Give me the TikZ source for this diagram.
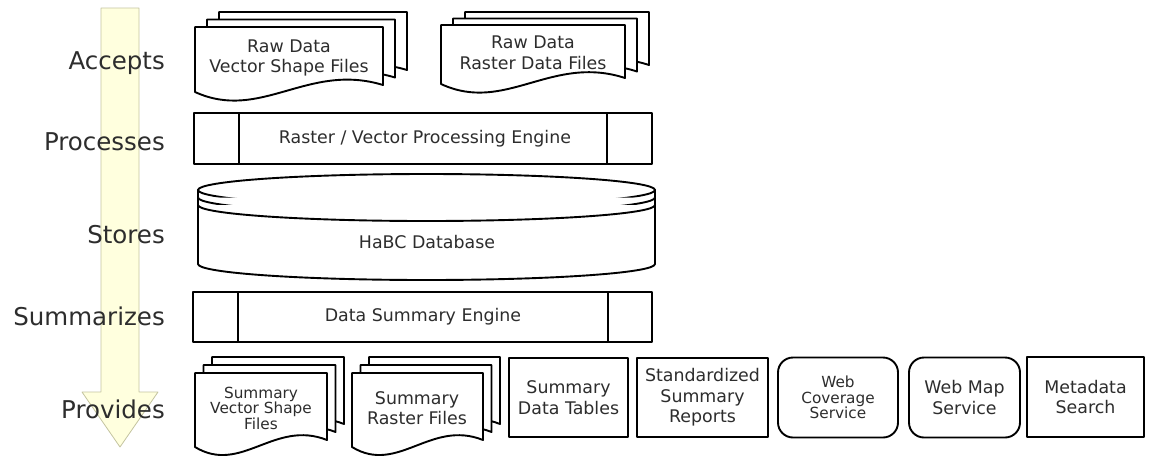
\documentclass[tikz,border=0pt]{standalone}
\usepackage{fontspec}
\setmainfont{DejaVu Sans}
\definecolor{arrowfill}{RGB}{255,255,222}
\definecolor{arrowline}{RGB}{196,196,160}
\definecolor{txt}{RGB}{45,45,45}
\newcommand\docshape[6]{%
  \filldraw[shapeline] (#1,#2) -- (#3,#2) -- (#3,{#4-#6})
    .. controls ({#1+0.6*(#3-#1)},{#4-#5}) and ({#1+0.35*(#3-#1)},{#4+#5}) .. (#1,#4) -- cycle;}
\newcommand\docstack[8]{%
  \begin{scope}[shift={(2*#7,-2*#8)}]\docshape{#1}{#2}{#3}{#4}{#5}{#6}\end{scope}
  \begin{scope}[shift={(#7,-#8)}]\docshape{#1}{#2}{#3}{#4}{#5}{#6}\end{scope}
  \docshape{#1}{#2}{#3}{#4}{#5}{#6}}
\begin{document}
\begin{tikzpicture}[x=1pt,y=-1pt,line join=round,
  shapeline/.style={draw=black,line width=1.9pt,fill=white},
  lbl/.style={font=\fontsize{24.5}{29}\selectfont,text=txt,anchor=base east,inner sep=0pt},
  boxtxt/.style={font=\fontsize{17.4}{20.5}\selectfont,text=txt,align=center,inner sep=0pt},
  smalltxt/.style={font=\fontsize{15.3}{15.5}\selectfont,text=txt,align=center,inner sep=0pt},
  rectbox/.style={shapeline,font=\fontsize{17.4}{20.5}\selectfont,text=txt,align=center,inner sep=0pt},
  roundbox/.style={rectbox,rounded corners=15pt}]
\useasboundingbox (0,0) rectangle (1150,456);

% big flow arrow
\filldraw[fill=arrowfill,draw=arrowline,line width=0.8pt]
  (101,8) -- (139,8) -- (139,392) -- (158,392) -- (120,447) -- (82,392) -- (101,392) -- cycle;

% stage labels
\node[lbl] (accepts) at (165,69) {Accepts};
\node[lbl] (processes) at (165,150) {Processes};
\node[lbl] (stores) at (165,243) {Stores};
\node[lbl] (summarizes) at (165,325) {Summarizes};
\node[lbl] (provides) at (165,418) {Provides};

% raw data documents
\docstack{195}{27}{383}{92}{30}{7}{12}{7.5}
\node[boxtxt] (rawvec) at (289,58) {Raw Data\\Vector Shape Files};
\docstack{441}{25}{625}{84}{30}{6}{12}{6.5}
\node[boxtxt] (rawras) at (533,53) {Raw Data\\Raster Data Files};

% processing engine
\draw[shapeline] (194,113) rectangle (652,164);
\draw[shapeline] (239,113) -- (239,164);
\draw[shapeline] (607,113) -- (607,164);
\node[boxtxt] (proc) at (425,139) {Raster / Vector Processing Engine};

% database
\filldraw[shapeline] (198,190) -- (198,264) arc[start angle=180,end angle=0,x radius=228.5,y radius=16] -- (655,190) -- cycle;
\draw[shapeline] (426.5,190) ellipse [x radius=228.5,y radius=16];
\draw[shapeline] (198,197.5) arc[start angle=180,end angle=0,x radius=228.5,y radius=16];
\draw[shapeline] (198,205) arc[start angle=180,end angle=0,x radius=228.5,y radius=16];
\node[boxtxt] (db) at (427,242) {HaBC Database};

% summary engine
\draw[shapeline] (193,292) rectangle (652,342);
\draw[shapeline] (238,292) -- (238,342);
\draw[shapeline] (608,292) -- (608,342);
\node[boxtxt] (sumeng) at (423,317) {Data Summary Engine};

% provided products
\docstack{195}{373}{327}{447}{28}{7}{8.5}{8}
\node[smalltxt] (sumvec) at (261,408) {Summary\\Vector Shape\\Files};
\docstack{352}{373}{483}{447}{28}{7}{8.5}{8}
\node[boxtxt] (sumras) at (417,408) {Summary\\Raster Files};

\node[rectbox,minimum width=119,minimum height=79] (tables) at (568.5,397.5) {Summary\\Data Tables};
\node[rectbox,minimum width=131,minimum height=79] (reports) at (702.5,397.5) {Standardized\\Summary\\Reports};
\node[roundbox,minimum width=120,minimum height=80,font=\fontsize{15.3}{15.5}\selectfont] (wcs) at (838,397.5) {Web\\Coverage\\Service};
\node[roundbox,minimum width=111,minimum height=80] (wms) at (964.5,397.5) {Web Map\\Service};
\node[rectbox,minimum width=117,minimum height=80] (meta) at (1085.5,397) {Metadata\\Search};
\end{tikzpicture}
\end{document}
